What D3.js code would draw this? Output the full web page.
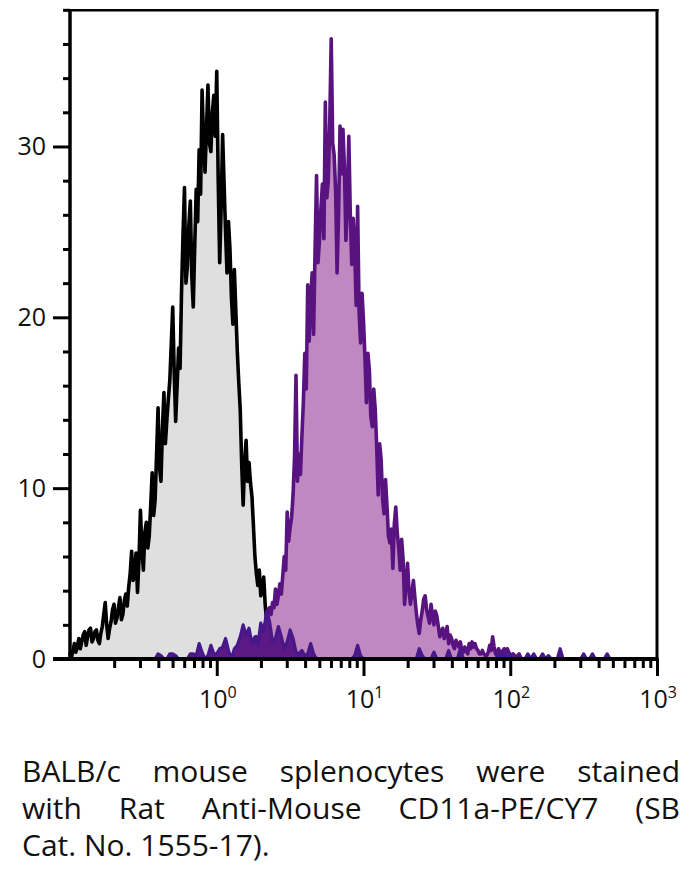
<!DOCTYPE html>
<html><head><meta charset="utf-8">
<script src="https://cdn.jsdelivr.net/npm/d3@7"></script>
<style>
html,body{margin:0;padding:0;background:#fff;}
#wrap{position:relative;width:690px;height:884px;overflow:hidden;background:#fff;}
svg{position:absolute;left:0;top:0;}
.cap{position:absolute;left:22px;width:658px;font-family:"Open Sans","Noto Sans",sans-serif;font-size:30px;line-height:37px;color:#111;white-space:nowrap;}
.just{text-align:justify;text-align-last:justify;white-space:normal;}
</style></head>
<body><div id="wrap"><svg id="chart" width="690" height="740"></svg><div id="caption"></div></div>
<script>
// histogram channel layout: log10(fluorescence) of bin k = logStart + (offset + k) * step
const logStart = -1;

// Control (unstained) histogram
const controlStep = 0.01, controlOffset = 0;
const controlCounts = [
  0.3,0.1, 0.5,0.9, 0.4,0.7, 1.2,0.6, 1.0,1.4, 1.6,0.8, 1.3,1.7, 1.8,1.0, 1.2,1.6, 1.7,1.1,
  0.9,1.5, 1.9,2.6, 3.3,2.0, 1.2,1.8, 2.2,2.9, 3.2,2.1, 2.4,3.0, 3.6,2.3, 2.6,3.4, 3.8,3.1,
  4.2,5.0, 6.3,4.6, 5.0,6.2, 3.9,5.8, 8.7,6.4, 5.2,7.4, 8.0,6.5, 7.2,9.0, 10.9,8.4, 9.3,12.0,
  14.7,11.2, 10.4,13.5, 15.6,12.6, 14.0,15.2, 16.3,18.4, 20.6,16.8, 13.9,16.0, 18.2,17.0, 21.5,24.8, 27.6,22.0,
  23.0,25.4, 26.8,22.4, 20.6,24.2, 27.5,25.6, 29.8,27.2, 33.3,30.4, 28.5,31.0, 33.6,30.2, 29.7,32.0, 33.0,30.6,
  34.4,28.0, 23.2,26.4, 30.7,27.8, 25.0,22.6, 25.6,24.0, 21.2,19.6, 22.8,20.4, 18.0,16.2, 14.6,11.4, 9.0,11.5,
  12.8,10.4, 11.5,10.3, 9.5,7.8, 6.0,5.0, 4.3,5.2, 3.7,4.1, 4.8,3.2, 2.2,2.6, 1.8,2.0, 1.6,1.4,
  1.2,1.1, 1.0,0.9, 0.8,0.6, 0.5,0.4, 0.3,0.2, 0];

// Stained (CD11a-PE/CY7) histogram
const stainedStep = 0.01, stainedOffset = 120;
const stainedCounts = [
  0.5,0.3, 0.8,1.1, 0.6,0.4, 1.0,1.3, 0.8,1.0, 1.3,1.9, 1.6,2.0, 2.4,2.9, 3.0,2.6, 3.3,3.0,
  4.1,3.2, 3.7,4.4, 3.8,4.9, 6.0,5.2, 8.6,6.9, 7.7,8.3, 9.6,11.8, 16.6,10.4, 12.0,10.8, 13.0,15.0,
  17.9,15.8, 21.9,18.6, 21.0,22.6, 19.0,24.0, 28.3,23.2, 24.5,26.4, 27.8,24.6, 32.6,27.0, 28.0,31.4, 36.3,30.2,
  29.5,27.4, 22.6,26.0, 31.2,28.4, 31.0,28.8, 24.5,26.8, 30.6,26.0, 23.1,25.8, 24.0,20.7, 26.5,20.3, 18.5,21.4,
  19.8,17.6, 15.0,17.9, 16.9,14.2, 13.6,15.8, 14.6,12.4, 9.6,12.6, 11.7,9.4, 8.5,10.5, 9.0,7.2, 6.8,7.6,
  5.3,7.9, 8.9,7.4, 6.5,5.2, 7.0,5.8, 3.2,4.4, 5.6,4.0, 3.2,3.9, 4.6,3.6, 2.7,2.0, 1.5,2.3,
  2.8,3.5, 3.7,2.9, 2.5,2.1, 3.2,2.6, 2.0,2.8, 2.5,1.9, 1.3,1.6, 1.8,1.2, 1.5,1.9, 0.9,1.4,
  1.2,0.8, 0.6,1.1, 0.9,0.7, 1.0,0.5, 0.4,0.7, 0.5,0.3, 0.9,0.6, 1.0,0.7, 0.9,0.6, 0.5,0.3,
  0.3,0.5, 0.3,0.2, 0.2,0.4, 0.8,0.5, 1.3,0.7, 0.3,0.2, 0.6,0.4, 0.3,0.5, 0.6,0.3, 0.6,0.4,
  0.2,0.1, 0.3,0.2, 0.1,0.2, 0.3,0.1, 0];

// Low-level background trace
const noiseStep = 0.02, noiseOffset = 28;
const noiseCounts = [0,0,0.3,0.2,0,0,0.3,0.3,0.2,0,
  0,0,0,0.3,0.3,0.2,0.9,0.4,0,0.2,
  0.8,0.3,0.3,0.6,0.7,1.2,0.5,0,0.6,0.8,
  1.3,2.0,1.4,1.8,0.9,1.3,0.8,2.1,1.6,2.8,
  2.2,1.0,1.2,1.9,1.3,0.6,1.0,1.7,1.2,0.4,
  0.3,0.5,0.2,0.3,0.9,0.3,0,0,0,0,
  0,0,0,0,0,0,0,0,0,0.2,
  0.8,0.2,0,0,0,0,0,0,0,0,
  0,0,0,0,0,0,0,0,0,0,
  0,0.6,0.2,0,0,0,0.4,0,0,0,
  0,0.5,0,0,0,0.6,0,0,0,0,
  0,0,0,0,0,0,0,0,0.3,0,
  0.4,0,0.3,0,0,0,0,0,0.3,0,
  0.3,0,0,0.3,0,0.2,0,0,0,0.6,
  0,0,0,0,0,0,0,0.3,0,0,
  0.3,0,0,0,0,0.3,0,0];

const xMajorTicks = [1, 10, 100, 1000];
const xMajorExponents = ["0", "1", "2", "3"];
const xMinorTicks = [0.2,0.3,0.4,0.5,0.6,0.7,0.8,0.9, 2,3,4,5,6,7,8,9, 20,30,40,50,60,70,80,90, 200,300,400,500,600,700,800,900];
const yMajorTicks = [0, 10, 20, 30];
const yMinorTicks = [2,4,6,8,12,14,16,18,22,24,26,28,32,34,36,38];

const captionLines = [
  "BALB/c mouse splenocytes were stained",
  "with Rat Anti-Mouse CD11a-PE/CY7 (SB",
  "Cat. No. 1555-17)."
];

const svg = d3.select("#chart");
const x = d3.scaleLog().domain([0.1, 1000]).range([70, 657]);
const y = d3.scaleLinear().domain([0, 38]).range([659, 9.8]);

function toPoints(counts, offset, step) {
  return counts.map((c, i) => ({ v: Math.pow(10, logStart + (offset + i) * step), c }));
}
const area = d3.area().x(d => x(d.v)).y0(y(0)).y1(d => y(d.c));
const line = d3.line().x(d => x(d.v)).y(d => y(d.c));

const ctrl = toPoints(controlCounts, controlOffset, controlStep);
const stained = toPoints(stainedCounts, stainedOffset, stainedStep);
const noise = toPoints(noiseCounts, noiseOffset, noiseStep);

const plot = svg.append("g");
plot.append("path").datum(ctrl).attr("d", area).attr("fill", "#dfdfdf");
plot.append("path").datum(ctrl).attr("d", line).attr("fill", "none")
  .attr("stroke", "#000").attr("stroke-width", 3.6).attr("stroke-linejoin", "round").attr("stroke-linecap", "round");
plot.append("path").datum(stained).attr("d", area).attr("fill", "#c088c0");
plot.append("path").datum(stained).attr("d", line).attr("fill", "none")
  .attr("stroke", "#581380").attr("stroke-width", 3.6).attr("stroke-linejoin", "round").attr("stroke-linecap", "round");
plot.append("path").datum(noise).attr("d", area).attr("fill", "#5c1884");
plot.append("path").datum(noise).attr("d", line).attr("fill", "none")
  .attr("stroke", "#46188a").attr("stroke-width", 3.2).attr("stroke-linejoin", "round");

// axes
function styleAxis(g) {
  g.select(".domain").remove();
  g.selectAll(".tick line").attr("stroke", "#000").attr("stroke-width", 3);
}
svg.append("g").attr("transform", "translate(0,659)")
  .call(d3.axisBottom(x).tickValues(xMinorTicks).tickSize(9).tickFormat(() => "").tickSizeOuter(0))
  .call(styleAxis);
svg.append("g").attr("transform", "translate(0,659)")
  .call(d3.axisBottom(x).tickValues(xMajorTicks).tickSize(17).tickFormat(() => "").tickSizeOuter(0))
  .call(styleAxis);
svg.append("g").attr("transform", "translate(70,0)")
  .call(d3.axisLeft(y).tickValues(yMinorTicks).tickSize(7).tickFormat(() => "").tickSizeOuter(0))
  .call(styleAxis);
svg.append("g").attr("transform", "translate(70,0)")
  .call(d3.axisLeft(y).tickValues(yMajorTicks).tickSize(17).tickFormat(() => "").tickSizeOuter(0))
  .call(styleAxis);

// y tick labels
svg.append("g").selectAll("text").data(yMajorTicks).join("text")
  .attr("x", 46).attr("y", d => y(d)).attr("dy", "0.36em")
  .attr("text-anchor", "end")
  .attr("font-family", "'Open Sans','Noto Sans',sans-serif").attr("font-size", 25).attr("fill", "#111")
  .text(d => d);

// x tick labels with superscripts
const xl = svg.append("g").selectAll("text").data(xMajorTicks).join("text")
  .attr("x", d => x(d) + 1).attr("y", 708)
  .attr("text-anchor", "middle")
  .attr("font-family", "'Open Sans','Noto Sans',sans-serif").attr("font-size", 25).attr("fill", "#111");
xl.append("tspan").text("10");
xl.append("tspan").attr("font-size", 16).attr("dy", -10).text((d, i) => xMajorExponents[i]);

// frame lines
const frame = svg.append("g").attr("stroke", "#000").attr("fill", "none");
frame.append("line").attr("x1", 70).attr("x2", 70).attr("y1", 9).attr("y2", 661).attr("stroke-width", 3.5);
frame.append("line").attr("x1", 53).attr("x2", 658.5).attr("y1", 659).attr("y2", 659).attr("stroke-width", 4);
frame.append("line").attr("x1", 70).attr("x2", 658.5).attr("y1", 10.2).attr("y2", 10.2).attr("stroke-width", 2.5);
frame.append("line").attr("x1", 657).attr("x2", 657).attr("y1", 9).attr("y2", 661).attr("stroke-width", 3);

// caption
const cap = d3.select("#caption");
captionLines.forEach((t, i) => {
  cap.append("div").attr("class", "cap" + (i < captionLines.length - 1 ? " just" : ""))
    .style("top", (752 + i * 37) + "px").text(t);
});
</script>
</body></html>
